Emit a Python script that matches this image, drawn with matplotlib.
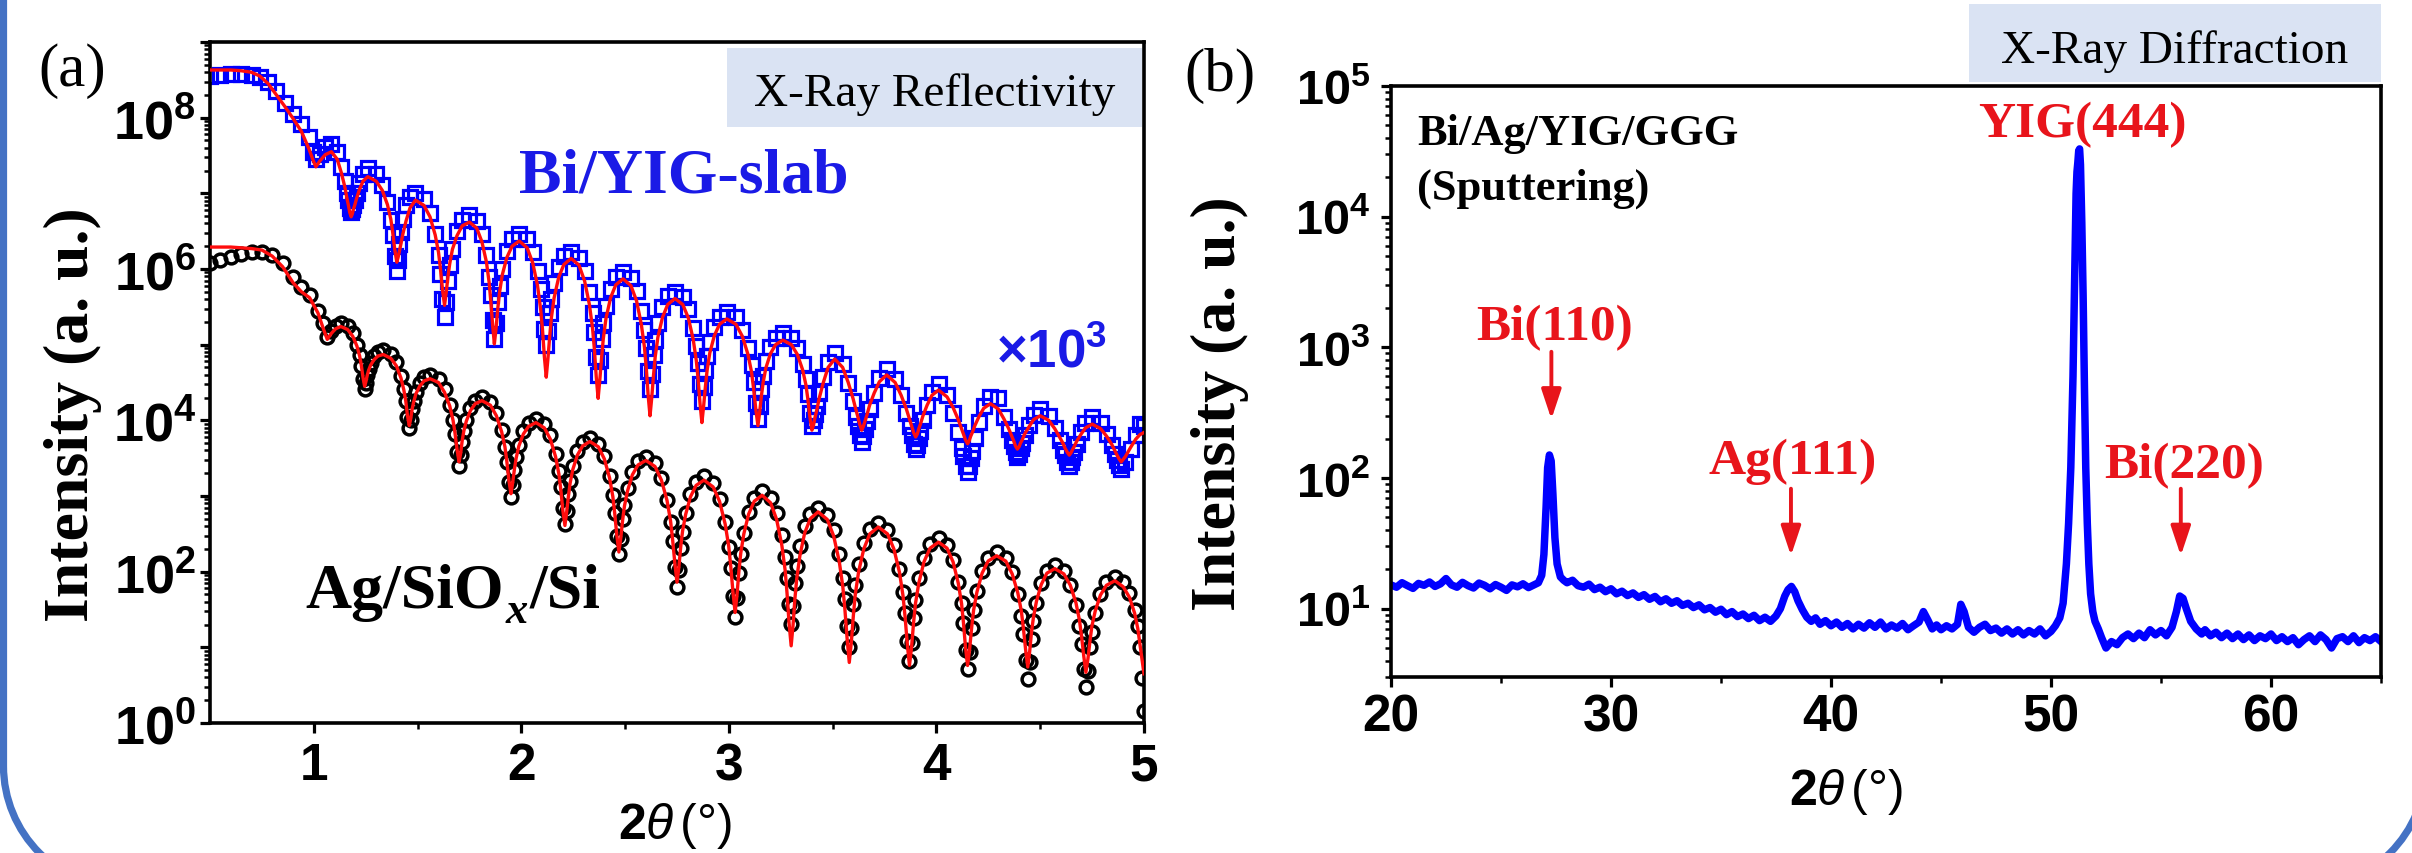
import numpy as np
import matplotlib
matplotlib.use("Agg")
import matplotlib.pyplot as plt
from matplotlib import ticker
from matplotlib.patches import Rectangle, PathPatch
from matplotlib.path import Path
from matplotlib.transforms import Affine2D

# ---------------------------------------------------------------- data
# (a) X-ray reflectivity, Ag/SiOx/Si : 2theta (deg), log10 intensity (fit, measured)
agsi_two_theta = [
    0.50, 0.55, 0.60, 0.65, 0.70, 0.75, 0.80, 0.85, 0.90, 0.94, 0.98, 1.02, 1.045,
    1.065, 1.085, 1.105, 1.13, 1.163, 1.188, 1.208, 1.221, 1.229, 1.237,
    1.245, 1.251, 1.258, 1.264, 1.274, 1.290, 1.309, 1.335, 1.371, 1.398, 1.420, 1.434, 1.443, 1.451,
    1.46, 1.467, 1.474, 1.481, 1.492, 1.510, 1.531, 1.56, 1.601, 1.630, 1.655, 1.671, 1.680, 1.690,
    1.70, 1.708, 1.715, 1.723, 1.735, 1.755, 1.778, 1.81, 1.851, 1.880, 1.905, 1.921, 1.930, 1.940,
    1.95, 1.958, 1.967, 1.975, 1.988, 2.010, 2.035, 2.07, 2.111, 2.140, 2.165, 2.181, 2.190, 2.200,
    2.21, 2.218, 2.227, 2.235, 2.248, 2.270, 2.295, 2.33, 2.371, 2.400, 2.425, 2.441, 2.450, 2.460,
    2.47, 2.479, 2.488, 2.497, 2.512, 2.535, 2.562, 2.60, 2.644, 2.675, 2.702, 2.719, 2.729, 2.740,
    2.75, 2.759, 2.768, 2.777, 2.792, 2.815, 2.842, 2.88, 2.924, 2.955, 2.982, 2.999, 3.009, 3.020,
    3.03, 3.039, 3.048, 3.057, 3.072, 3.095, 3.122, 3.16, 3.201, 3.230, 3.255, 3.271, 3.280, 3.290,
    3.30, 3.309, 3.318, 3.327, 3.342, 3.365, 3.392, 3.43, 3.474, 3.505, 3.532, 3.549, 3.559, 3.570,
    3.58, 3.590, 3.600, 3.609, 3.625, 3.650, 3.679, 3.72, 3.764, 3.795, 3.822, 3.839, 3.849, 3.860,
    3.87, 3.880, 3.890, 3.899, 3.915, 3.940, 3.969, 4.01, 4.051, 4.080, 4.105, 4.121, 4.130, 4.140,
    4.15, 4.160, 4.170, 4.179, 4.195, 4.220, 4.249, 4.29, 4.334, 4.365, 4.392, 4.409, 4.419, 4.430,
    4.44, 4.449, 4.458, 4.467, 4.482, 4.505, 4.532, 4.57, 4.614, 4.645, 4.672, 4.689, 4.699, 4.710,
    4.72, 4.730, 4.740, 4.749, 4.765, 4.790, 4.819, 4.86, 4.900, 4.930, 4.955, 4.970, 4.980, 4.990, 5.00]
agsi_fit_log = [
    6.29, 6.29, 6.29, 6.28, 6.27, 6.25, 6.17, 6.03, 5.82, 5.70, 5.62, 5.42, 5.22,
    5.07, 5.15, 5.21, 5.24, 5.20, 5.11, 4.98, 4.85, 4.73, 4.57,
    4.45, 4.51, 4.60, 4.66, 4.73, 4.80, 4.85, 4.87, 4.82, 4.72, 4.56, 4.40, 4.26, 4.07,
    3.93, 4.02, 4.15, 4.24, 4.35, 4.45, 4.52, 4.55, 4.50, 4.37, 4.19, 4.00, 3.84, 3.62,
    3.45, 3.57, 3.73, 3.86, 3.99, 4.13, 4.22, 4.26, 4.20, 4.06, 3.85, 3.65, 3.46, 3.21,
    3.03, 3.17, 3.36, 3.50, 3.66, 3.82, 3.92, 3.97, 3.90, 3.75, 3.52, 3.29, 3.09, 2.81,
    2.61, 2.78, 3.00, 3.17, 3.35, 3.54, 3.66, 3.72, 3.65, 3.49, 3.24, 2.99, 2.77, 2.48,
    2.26, 2.44, 2.68, 2.87, 3.07, 3.28, 3.41, 3.47, 3.39, 3.21, 2.94, 2.67, 2.42, 2.10,
    1.86, 2.06, 2.33, 2.54, 2.76, 2.99, 3.14, 3.21, 3.12, 2.93, 2.63, 2.34, 2.07, 1.72,
    1.46, 1.69, 2.00, 2.24, 2.50, 2.76, 2.93, 3.01, 2.91, 2.69, 2.35, 2.02, 1.72, 1.32,
    1.02, 1.29, 1.64, 1.91, 2.21, 2.51, 2.70, 2.79, 2.69, 2.47, 2.13, 1.80, 1.50, 1.10,
    0.80, 1.07, 1.43, 1.70, 2.00, 2.30, 2.50, 2.59, 2.50, 2.30, 1.99, 1.68, 1.40, 1.03,
    0.76, 1.00, 1.33, 1.58, 1.85, 2.13, 2.31, 2.39, 2.31, 2.13, 1.85, 1.58, 1.33, 1.00,
    0.76, 0.98, 1.27, 1.49, 1.73, 1.98, 2.14, 2.21, 2.14, 1.97, 1.72, 1.48, 1.25, 0.96,
    0.74, 0.94, 1.20, 1.39, 1.61, 1.83, 1.98, 2.04, 1.97, 1.82, 1.59, 1.36, 1.15, 0.88,
    0.67, 0.85, 1.09, 1.28, 1.48, 1.69, 1.82, 1.88, 1.80, 1.66, 1.45, 1.25, 1.05, 0.85, 0.65]
agsi_data_log = [
    6.08, 6.12, 6.16, 6.20, 6.22, 6.22, 6.19, 6.08, 5.90, 5.76, 5.66, 5.45, 5.28,
    5.10, 5.18, 5.25, 5.29, 5.25, 5.15, 5.00, 4.86, 4.72, 4.55,
    4.42, 4.50, 4.60, 4.68, 4.76, 4.85, 4.90, 4.93, 4.88, 4.77, 4.59, 4.42, 4.26, 4.05,
    3.90, 4.01, 4.15, 4.25, 4.37, 4.49, 4.57, 4.60, 4.54, 4.41, 4.20, 4.00, 3.82, 3.58,
    3.40, 3.54, 3.72, 3.86, 4.01, 4.16, 4.26, 4.31, 4.24, 4.10, 3.87, 3.65, 3.45, 3.19,
    2.99, 3.14, 3.35, 3.51, 3.68, 3.86, 3.97, 4.02, 3.95, 3.80, 3.56, 3.33, 3.12, 2.84,
    2.63, 2.80, 3.03, 3.20, 3.39, 3.59, 3.71, 3.77, 3.69, 3.53, 3.27, 3.01, 2.78, 2.47,
    2.24, 2.43, 2.69, 2.88, 3.10, 3.32, 3.46, 3.52, 3.43, 3.24, 2.95, 2.66, 2.40, 2.06,
    1.80, 2.02, 2.31, 2.53, 2.78, 3.03, 3.19, 3.26, 3.17, 2.96, 2.65, 2.33, 2.05, 1.68,
    1.40, 1.65, 1.98, 2.23, 2.51, 2.79, 2.98, 3.06, 2.97, 2.78, 2.48, 2.19, 1.92, 1.57,
    1.31, 1.54, 1.85, 2.08, 2.34, 2.60, 2.76, 2.84, 2.75, 2.55, 2.23, 1.92, 1.64, 1.28,
    1.00, 1.25, 1.57, 1.82, 2.10, 2.38, 2.56, 2.64, 2.55, 2.35, 2.04, 1.73, 1.46, 1.09,
    0.82, 1.06, 1.39, 1.63, 1.91, 2.18, 2.36, 2.44, 2.35, 2.16, 1.87, 1.58, 1.32, 0.97,
    0.71, 0.94, 1.25, 1.49, 1.75, 2.01, 2.18, 2.26, 2.18, 1.99, 1.71, 1.42, 1.17, 0.83,
    0.58, 0.81, 1.11, 1.35, 1.59, 1.85, 2.01, 2.09, 2.01, 1.83, 1.56, 1.28, 1.04, 0.71,
    0.47, 0.69, 1.00, 1.20, 1.45, 1.70, 1.86, 1.93, 1.86, 1.72, 1.50, 1.28, 1.00, 0.60, 0.16]

# (a) X-ray reflectivity, Bi/YIG-slab (shown x10^3): 2theta, log10 intensity (fit, measured)
bi_two_theta = [
    0.50, 0.55, 0.60, 0.65, 0.70, 0.74, 0.78, 0.82, 0.86, 0.90, 0.94, 0.975, 0.995,
    1.01, 1.03, 1.055, 1.085, 1.113, 1.133, 1.150, 1.160, 1.167, 1.173,
    1.18, 1.186, 1.191, 1.197, 1.206, 1.220, 1.237, 1.26, 1.301, 1.330, 1.355, 1.371, 1.380, 1.390,
    1.40, 1.406, 1.413, 1.419, 1.429, 1.445, 1.464, 1.49, 1.531, 1.560, 1.585, 1.601, 1.610, 1.620,
    1.63, 1.638, 1.647, 1.655, 1.668, 1.690, 1.715, 1.75, 1.785, 1.810, 1.832, 1.845, 1.853, 1.862,
    1.87, 1.878, 1.887, 1.895, 1.908, 1.930, 1.955, 1.99, 2.028, 2.055, 2.078, 2.093, 2.102, 2.111,
    2.12, 2.128, 2.137, 2.145, 2.158, 2.180, 2.205, 2.24, 2.278, 2.305, 2.328, 2.343, 2.352, 2.361,
    2.37, 2.378, 2.387, 2.395, 2.408, 2.430, 2.455, 2.49, 2.528, 2.555, 2.578, 2.593, 2.602, 2.611,
    2.62, 2.628, 2.637, 2.645, 2.658, 2.680, 2.705, 2.74, 2.778, 2.805, 2.828, 2.843, 2.852, 2.861,
    2.87, 2.878, 2.887, 2.895, 2.908, 2.930, 2.955, 2.99, 3.034, 3.065, 3.092, 3.109, 3.119, 3.130,
    3.14, 3.148, 3.157, 3.165, 3.178, 3.200, 3.225, 3.26, 3.301, 3.330, 3.355, 3.371, 3.380, 3.390,
    3.40, 3.408, 3.415, 3.423, 3.435, 3.455, 3.478, 3.51, 3.548, 3.575, 3.598, 3.613, 3.622, 3.631,
    3.64, 3.648, 3.657, 3.665, 3.678, 3.700, 3.725, 3.76, 3.801, 3.830, 3.855, 3.871, 3.880, 3.890,
    3.90, 3.908, 3.915, 3.923, 3.935, 3.955, 3.978, 4.01, 4.051, 4.080, 4.105, 4.121, 4.130, 4.140,
    4.15, 4.158, 4.165, 4.173, 4.185, 4.205, 4.228, 4.26, 4.298, 4.325, 4.348, 4.363, 4.372, 4.381,
    4.39, 4.398, 4.405, 4.413, 4.425, 4.445, 4.468, 4.50, 4.541, 4.570, 4.595, 4.611, 4.620, 4.630,
    4.64, 4.648, 4.655, 4.663, 4.675, 4.695, 4.718, 4.75, 4.791, 4.820, 4.845, 4.861, 4.870, 4.880,
    4.89, 4.910, 4.935, 4.960, 4.980, 5.00]
bi_fit_log_x1e3 = [
    8.63, 8.63, 8.63, 8.62, 8.60, 8.55, 8.45, 8.30, 8.15, 7.99, 7.82, 7.60, 7.45,
    7.35, 7.43, 7.51, 7.55, 7.45, 7.27, 7.08, 6.93, 6.84, 6.75,
    6.69, 6.73, 6.79, 6.84, 6.93, 7.05, 7.16, 7.22, 7.16, 7.04, 6.85, 6.66, 6.49, 6.26,
    6.09, 6.15, 6.24, 6.32, 6.46, 6.64, 6.81, 6.91, 6.84, 6.69, 6.45, 6.22, 6.01, 5.73,
    5.52, 5.69, 5.91, 6.07, 6.26, 6.44, 6.57, 6.62, 6.54, 6.36, 6.09, 5.82, 5.57, 5.25,
    5.01, 5.21, 5.49, 5.69, 5.92, 6.15, 6.30, 6.37, 6.28, 6.08, 5.78, 5.47, 5.20, 4.84,
    4.57, 4.81, 5.12, 5.36, 5.62, 5.89, 6.06, 6.14, 6.05, 5.84, 5.53, 5.22, 4.94, 4.57,
    4.29, 4.53, 4.84, 5.08, 5.35, 5.62, 5.79, 5.87, 5.78, 5.58, 5.27, 4.97, 4.69, 4.33,
    4.06, 4.29, 4.60, 4.84, 5.10, 5.36, 5.53, 5.61, 5.53, 5.35, 5.07, 4.79, 4.54, 4.22,
    3.97, 4.18, 4.45, 4.66, 4.89, 5.12, 5.27, 5.34, 5.27, 5.11, 4.87, 4.64, 4.42, 4.14,
    3.93, 4.10, 4.33, 4.50, 4.69, 4.88, 5.00, 5.06, 5.00, 4.87, 4.67, 4.47, 4.29, 4.05,
    3.87, 3.94, 4.04, 4.13, 4.29, 4.50, 4.70, 4.81, 4.70, 4.50, 4.29, 4.13, 4.04, 3.94,
    3.87, 3.92, 4.00, 4.07, 4.20, 4.36, 4.51, 4.60, 4.50, 4.33, 4.15, 4.01, 3.93, 3.84,
    3.78, 3.82, 3.89, 3.95, 4.06, 4.20, 4.33, 4.40, 4.31, 4.17, 4.01, 3.89, 3.82, 3.74,
    3.69, 3.73, 3.79, 3.84, 3.93, 4.05, 4.16, 4.22, 4.15, 4.02, 3.89, 3.79, 3.73, 3.66,
    3.62, 3.65, 3.70, 3.74, 3.82, 3.91, 4.01, 4.06, 4.00, 3.89, 3.77, 3.69, 3.63, 3.58,
    3.54, 3.57, 3.61, 3.65, 3.72, 3.81, 3.90, 3.95, 3.89, 3.79, 3.68, 3.59, 3.54, 3.49,
    3.45, 3.52, 3.64, 3.75, 3.81, 3.84]
bi_data_log_x1e3 = [
    8.55, 8.57, 8.58, 8.58, 8.57, 8.54, 8.47, 8.35, 8.20, 8.05, 7.92, 7.75, 7.55,
    7.45, 7.52, 7.61, 7.65, 7.54, 7.35, 7.16, 7.00, 6.91, 6.81,
    6.75, 6.79, 6.85, 6.91, 7.01, 7.14, 7.26, 7.33, 7.26, 7.11, 6.88, 6.65, 6.45, 6.17,
    5.97, 6.12, 6.33, 6.49, 6.66, 6.84, 6.95, 7.00, 6.92, 6.74, 6.46, 6.19, 5.94, 5.61,
    5.37, 5.57, 5.84, 6.05, 6.27, 6.50, 6.65, 6.72, 6.64, 6.46, 6.18, 5.90, 5.65, 5.33,
    5.08, 5.29, 5.56, 5.77, 6.00, 6.24, 6.39, 6.46, 6.39, 6.22, 5.97, 5.73, 5.50, 5.21,
    4.99, 5.18, 5.42, 5.61, 5.82, 6.03, 6.17, 6.23, 6.15, 5.97, 5.69, 5.42, 5.17, 4.84,
    4.60, 4.80, 5.08, 5.28, 5.51, 5.74, 5.89, 5.96, 5.88, 5.71, 5.45, 5.19, 4.96, 4.65,
    4.42, 4.61, 4.87, 5.06, 5.28, 5.50, 5.64, 5.70, 5.63, 5.47, 5.22, 4.98, 4.76, 4.48,
    4.26, 4.44, 4.67, 4.85, 5.04, 5.24, 5.37, 5.43, 5.36, 5.20, 4.96, 4.73, 4.51, 4.23,
    4.02, 4.19, 4.42, 4.59, 4.78, 4.97, 5.09, 5.15, 5.09, 4.95, 4.74, 4.54, 4.35, 4.10,
    3.92, 4.01, 4.09, 4.19, 4.36, 4.57, 4.77, 4.89, 4.75, 4.50, 4.25, 4.05, 3.93, 3.80,
    3.72, 3.79, 3.89, 3.99, 4.15, 4.36, 4.56, 4.68, 4.55, 4.33, 4.10, 3.92, 3.81, 3.69,
    3.62, 3.68, 3.77, 3.86, 4.01, 4.20, 4.38, 4.48, 4.34, 4.10, 3.84, 3.64, 3.53, 3.40,
    3.32, 3.39, 3.50, 3.60, 3.77, 3.98, 4.19, 4.31, 4.30, 4.05, 3.88, 3.74, 3.66, 3.58,
    3.52, 3.56, 3.63, 3.70, 3.80, 3.94, 4.07, 4.15, 4.06, 3.90, 3.74, 3.61, 3.54, 3.45,
    3.40, 3.45, 3.52, 3.58, 3.69, 3.84, 3.97, 4.05, 3.97, 3.82, 3.67, 3.55, 3.48, 3.41,
    3.36, 3.45, 3.62, 3.80, 3.95, 3.92]

# (b) X-ray diffraction, Bi/Ag/YIG/GGG: (2theta, intensity)
xrd_points = [
    (20.0, 15.2), (20.25, 14.6), (20.5, 15.8), (20.75, 15.0), (21.0, 14.3), (21.25, 15.6),
    (21.5, 15.1), (21.75, 16.0), (22.0, 14.8), (22.25, 15.5), (22.5, 17.0), (22.75, 15.2),
    (23.0, 14.6), (23.25, 15.9), (23.5, 15.0), (23.75, 14.4), (24.0, 15.7), (24.25, 15.1),
    (24.5, 14.2), (24.75, 15.3), (25.0, 14.6), (25.25, 13.8), (25.5, 15.2), (25.75, 14.7),
    (26.0, 15.5), (26.25, 14.5), (26.5, 15.2), (26.7, 15.8), (26.85, 18.0), (26.95, 26.0),
    (27.05, 60.0), (27.12, 120.0), (27.2, 150.0), (27.28, 135.0), (27.36, 75.0), (27.45, 35.0),
    (27.55, 22.0), (27.7, 17.5), (27.85, 16.5), (28.0, 15.8), (28.25, 16.5), (28.5, 15.0),
    (28.75, 14.6), (29.0, 15.4), (29.25, 14.0), (29.5, 14.6), (29.75, 13.5), (30.0, 14.2),
    (30.25, 13.0), (30.5, 13.6), (30.75, 12.6), (31.0, 13.2), (31.25, 12.2), (31.5, 12.8),
    (31.75, 11.8), (32.0, 12.4), (32.25, 11.3), (32.5, 11.9), (32.75, 11.0), (33.0, 11.5),
    (33.25, 10.6), (33.5, 11.0), (33.75, 10.2), (34.0, 10.7), (34.25, 9.8), (34.5, 10.2),
    (34.75, 9.4), (35.0, 9.9), (35.25, 9.0), (35.5, 9.5), (35.75, 8.7), (36.0, 9.1),
    (36.25, 8.4), (36.5, 8.9), (36.75, 8.1), (37.0, 8.6), (37.25, 8.0), (37.5, 8.8),
    (37.7, 10.0), (37.9, 12.5), (38.05, 14.0), (38.2, 14.8), (38.35, 13.5), (38.5, 11.5),
    (38.7, 9.8), (38.9, 8.6), (39.1, 8.0), (39.3, 8.5), (39.5, 7.6), (39.75, 8.1),
    (40.0, 7.4), (40.25, 7.9), (40.5, 7.2), (40.75, 7.7), (41.0, 7.0), (41.25, 7.6),
    (41.5, 7.1), (41.75, 7.8), (42.0, 7.2), (42.25, 7.9), (42.5, 7.0), (42.75, 7.5),
    (43.0, 7.1), (43.25, 7.7), (43.5, 6.9), (43.75, 7.4), (44.0, 7.9), (44.2, 9.5),
    (44.4, 8.2), (44.6, 7.0), (44.8, 7.5), (45.0, 6.9), (45.25, 7.4), (45.5, 7.0),
    (45.75, 7.6), (45.9, 10.8), (46.05, 9.5), (46.25, 7.2), (46.5, 6.6), (46.75, 7.2),
    (47.0, 7.6), (47.25, 6.8), (47.5, 7.1), (47.75, 6.5), (48.0, 7.0), (48.25, 6.4),
    (48.5, 6.9), (48.75, 6.3), (49.0, 6.8), (49.25, 6.4), (49.5, 7.0), (49.75, 6.2),
    (50.0, 6.7), (50.2, 7.4), (50.4, 8.5), (50.55, 11.0), (50.7, 22.0), (50.8, 45.0),
    (50.9, 120.0), (51.0, 600.0), (51.08, 4000.0), (51.14, 15000.0), (51.18, 22000.0),
    (51.22, 26000.0), (51.26, 32000.0), (51.3, 33000.0), (51.34, 25000.0), (51.4, 9000.0),
    (51.46, 2500.0), (51.52, 500.0), (51.58, 120.0), (51.65, 45.0), (51.72, 22.0),
    (51.8, 13.0), (51.9, 9.5), (52.0, 8.0), (52.15, 7.0), (52.3, 6.0), (52.5, 5.0),
    (52.75, 5.6), (53.0, 5.3), (53.25, 6.0), (53.5, 6.4), (53.75, 5.9), (54.0, 6.5),
    (54.25, 6.0), (54.5, 6.9), (54.75, 6.3), (55.0, 6.8), (55.25, 6.2), (55.5, 7.2),
    (55.7, 9.5), (55.85, 12.5), (56.0, 12.0), (56.15, 10.0), (56.35, 8.0), (56.6, 7.0),
    (56.85, 6.4), (57.0, 6.9), (57.25, 6.2), (57.5, 6.6), (57.75, 6.0), (58.0, 6.5),
    (58.25, 5.9), (58.5, 6.4), (58.75, 5.8), (59.0, 6.3), (59.25, 5.7), (59.5, 6.2),
    (59.75, 5.9), (60.0, 6.4), (60.25, 5.7), (60.5, 6.1), (60.75, 5.6), (61.0, 6.0),
    (61.25, 5.3), (61.5, 5.8), (61.75, 6.2), (62.0, 5.6), (62.25, 6.3), (62.5, 5.8),
    (62.75, 5.0), (63.0, 5.9), (63.25, 6.1), (63.5, 5.6), (63.75, 6.2), (64.0, 5.5),
    (64.25, 6.0), (64.5, 5.7), (64.75, 6.1), (65.0, 5.6)]

xrr_xticks = [1, 2, 3, 4, 5]
xrr_xticklabels = ['1', '2', '3', '4', '5']
xrr_xminor = [1.5, 2.5, 3.5, 4.5]
xrr_yticks = [1e0, 1e1, 1e2, 1e3, 1e4, 1e5, 1e6, 1e7, 1e8, 1e9]
xrr_yticklabels = [r'$\mathbf{10^{0}}$', '', r'$\mathbf{10^{2}}$', '', r'$\mathbf{10^{4}}$', '',
                   r'$\mathbf{10^{6}}$', '', r'$\mathbf{10^{8}}$', '']
xrd_xticks = [20, 30, 40, 50, 60]
xrd_xticklabels = ['20', '30', '40', '50', '60']
xrd_xminor = [25, 35, 45, 55, 65]
xrd_yticks = [1e1, 1e2, 1e3, 1e4, 1e5]
xrd_yticklabels = [r'$\mathbf{10^{1}}$', r'$\mathbf{10^{2}}$', r'$\mathbf{10^{3}}$',
                   r'$\mathbf{10^{4}}$', r'$\mathbf{10^{5}}$']
xrd_peak_labels = ['Bi(110)', 'Ag(111)', 'YIG(444)', 'Bi(220)']

# ---------------------------------------------------------------- style
plt.rcParams['font.family'] = ['Liberation Sans', 'DejaVu Sans']
plt.rcParams['mathtext.fontset'] = 'custom'
plt.rcParams['mathtext.rm'] = 'Liberation Sans'
plt.rcParams['mathtext.it'] = 'Liberation Sans:italic'
plt.rcParams['mathtext.bf'] = 'Liberation Sans:bold'

SERIF = ['Liberation Serif', 'DejaVu Serif']
RED_FIT = '#ff0d0d'
RED_TXT = '#e8141b'
BLUE = '#0000ff'
BLUE_TXT = '#1a1ae6'
BOX = '#dae3f3'
FRAME = '#4472c4'

W, H = 2412, 854
fig = plt.figure(figsize=(W / 100, H / 100), dpi=100)
PIX = Affine2D().scale(1.0 / W, 1.0 / H) + fig.transFigure   # pixel coords, origin bottom-left


def fx(px):
    return px / W


def fy(py):
    return 1 - py / H


def style_axes(ax):
    for s in ax.spines.values():
        s.set_linewidth(2.6)
    ax.tick_params(which='both', direction='out', top=False, right=False)
    ax.tick_params(which='major', length=7, width=2.3)
    ax.tick_params(which='minor', length=4.5, width=1.8)


# ---------------------------------------------------------------- panel (a)
ax1 = fig.add_axes([fx(210), fy(724), (1144 - 210) / W, (724 - 43) / H])
ax1.set_yscale('log')
ax1.plot(bi_two_theta, 10 ** np.array(bi_data_log_x1e3), ls='none', marker='s', ms=9.5,
         mfc='none', mec=BLUE, mew=2.3, zorder=2)
ax1.plot(bi_two_theta, 10 ** np.array(bi_fit_log_x1e3), color=RED_FIT, lw=2.4, zorder=3)
ax1.plot(agsi_two_theta, 10 ** np.array(agsi_data_log), ls='none', marker='o', ms=9.2,
         mfc='none', mec='black', mew=2.5, zorder=2)
ax1.plot(agsi_two_theta, 10 ** np.array(agsi_fit_log), color=RED_FIT, lw=2.4, zorder=3)
ax1.set_xlim(0.5, 5)
ax1.set_ylim(1, 1e9)
style_axes(ax1)
ax1.set_xticks(xrr_xticks, xrr_xticklabels, fontsize=37, fontweight='bold')
ax1.set_xticks(xrr_xminor, minor=True)
ax1.set_yticks(xrr_yticks, xrr_yticklabels, fontsize=39)
ax1.yaxis.set_minor_locator(ticker.LogLocator(base=10, subs=np.arange(2, 10), numticks=100))
ax1.yaxis.set_minor_formatter(ticker.NullFormatter())
ax1.tick_params(axis='x', which='major', pad=6)
ax1.tick_params(axis='y', which='major', pad=3)

ax1.text(1.99, 10 ** 7.02, 'Bi/YIG-slab', family=SERIF, fontweight='bold', fontsize=46,
         color=BLUE_TXT, ha='left', va='baseline')
ax1.text(4.285, 10 ** 4.71, r'$\mathbf{\times10^{3}}$', fontsize=38, color=BLUE_TXT,
         ha='left', va='baseline')
t1 = ax1.text(0.961, 10 ** 1.534, 'Ag/SiO', family=SERIF, fontweight='bold', fontsize=46,
              color='black', ha='left', va='baseline')
t2 = ax1.annotate('x', xy=(1, 0), xycoords=t1, xytext=(1, -1), textcoords='offset points',
                  family=SERIF, fontweight='bold', fontstyle='italic', fontsize=32,
                  ha='left', va='baseline')
ax1.annotate('/Si', xy=(1, 0), xycoords=(t2, t1), xytext=(1, 0), textcoords='offset points',
             family=SERIF, fontweight='bold', fontsize=46, ha='left', va='bottom')

# ---------------------------------------------------------------- panel (b)
ax2 = fig.add_axes([fx(1391), fy(678), (2381 - 1391) / W, (678 - 87) / H])
ax2.set_yscale('log')
xrd_x = [p[0] for p in xrd_points]
xrd_y = [p[1] for p in xrd_points]
ax2.plot(xrd_x, xrd_y, color=BLUE, lw=5.4, solid_joinstyle='round')
ax2.set_xlim(20, 65)
ax2.set_ylim(3, 1e5)
style_axes(ax2)
ax2.set_xticks(xrd_xticks, xrd_xticklabels, fontsize=37, fontweight='bold')
ax2.set_xticks(xrd_xminor, minor=True)
ax2.set_yticks(xrd_yticks, xrd_yticklabels, fontsize=35)
ax2.yaxis.set_minor_locator(ticker.LogLocator(base=10, subs=np.arange(2, 10), numticks=100))
ax2.yaxis.set_minor_formatter(ticker.NullFormatter())
ax2.tick_params(axis='x', which='major', pad=4)
ax2.tick_params(axis='y', which='major', pad=8)

ax2.text(21.2, 10 ** 4.556, 'Bi/Ag/YIG/GGG', family=SERIF, fontweight='bold', fontsize=32,
         ha='left', va='baseline')
ax2.text(21.2, 10 ** 4.136, '(Sputtering)', family=SERIF, fontweight='bold', fontsize=32,
         ha='left', va='baseline')
label_pos = [(27.43, 3.065), (38.25, 2.04), (51.41, 4.618), (56.04, 2.01)]
for lab, (lx, ly) in zip(xrd_peak_labels, label_pos):
    ax2.text(lx, 10 ** ly, lab, family=SERIF, fontweight='bold', fontsize=37, color=RED_TXT,
             ha='center', va='baseline')
arrow_pos = [(27.29, 2.966, 2.45), (38.18, 1.918, 1.405), (55.9, 1.918, 1.405)]
for axx, y0, y1 in arrow_pos:
    ax2.annotate('', xy=(axx, 10 ** y1), xytext=(axx, 10 ** y0),
                 arrowprops=dict(arrowstyle='-|>,head_length=0.9,head_width=0.3',
                                 mutation_scale=20, color=RED_TXT, lw=2.8,
                                 shrinkA=0, shrinkB=0))

# ---------------------------------------------------------------- figure-level texts
fig.text(fx(72), fy(86), '(a)', family=SERIF, fontsize=44, ha='center', va='baseline')
fig.text(fx(1220), fy(91), '(b)', family=SERIF, fontsize=44, ha='center', va='baseline')

fig.text(fx(73), fy(415), 'Intensity (a. u.)', family=SERIF, fontweight='bold', fontsize=46,
         rotation=90, ha='center', va='center')
fig.text(fx(1220), fy(404), 'Intensity (a. u.)', family=SERIF, fontweight='bold', fontsize=46,
         rotation=90, ha='center', va='center')

fig.text(fx(675), fy(826), r'$\mathbf{2}\theta\,(°)$', fontsize=36, ha='center', va='center')
fig.text(fx(1846), fy(792), r'$\mathbf{2}\theta\,(°)$', fontsize=36, ha='center', va='center')

fig.add_artist(Rectangle((fx(727), fy(128)), (1142 - 727) / W, (128 - 49) / H,
                         transform=fig.transFigure, facecolor=BOX, edgecolor='none', zorder=5))
fig.text(fx(934.5), fy(106), 'X-Ray Reflectivity', family=SERIF, fontsize=34,
         ha='center', va='baseline', zorder=6)
fig.add_artist(Rectangle((fx(1969), fy(83)), (2381 - 1969) / W, (83 - 5) / H,
                         transform=fig.transFigure, facecolor=BOX, edgecolor='none', zorder=5))
fig.text(fx(2175), fy(63), 'X-Ray Diffraction', family=SERIF, fontsize=34,
         ha='center', va='baseline', zorder=6)

# blue frame of the slide: left edge + bottom-left corner, and the bottom-right corner arc
x_l, x_r, y_b, rad, y_top = 3.5, 2426.0, H - 890.0, 123.0, H + 60.0
left_arc = Path.arc(180, 270)
verts = [(x_l, y_top)] + [(x_l + rad + rad * vx, y_b + rad + rad * vy) for vx, vy in left_arc.vertices]
codes = [Path.MOVETO, Path.LINETO] + list(left_arc.codes[1:])
fig.add_artist(PathPatch(Path(verts, codes), transform=PIX, fill=False,
                         edgecolor=FRAME, linewidth=5.2, clip_on=False))
right_arc = Path.arc(270, 360)
verts = [(x_r - rad + rad * vx, y_b + rad + rad * vy) for vx, vy in right_arc.vertices]
fig.add_artist(PathPatch(Path(verts, list(right_arc.codes)), transform=PIX, fill=False,
                         edgecolor=FRAME, linewidth=5.2, clip_on=False))

fig.savefig('out.png', dpi=100)
